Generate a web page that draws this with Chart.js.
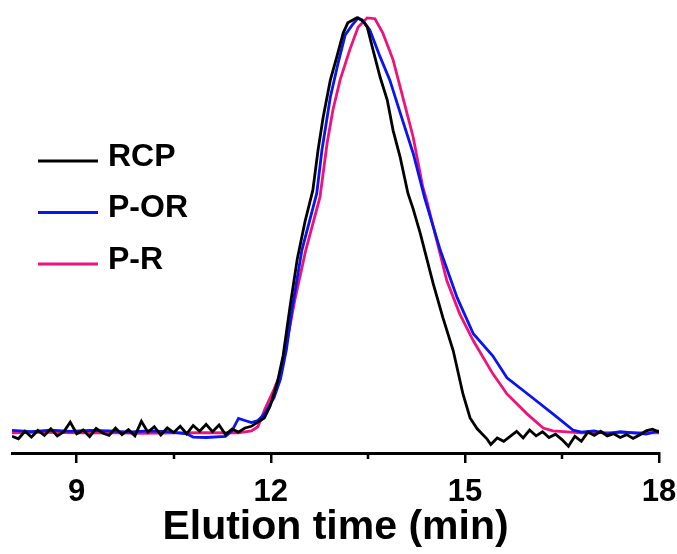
<!DOCTYPE html>
<html>
<head>
<meta charset="utf-8" />
<script src="https://cdn.jsdelivr.net/npm/chart.js@4/dist/chart.umd.min.js"></script>
<style>
  html, body { margin: 0; padding: 0; background: #fff; }
  #wrap { width: 677px; height: 554px; }
</style>
</head>
<body>
<div id="wrap"><canvas id="myChartGpc"></canvas></div>
<script>
//? Valeurs (temps en min, signal normalisé 0-100).

const labelsSeries = ["RCP", "P-OR", "P-R"];
const couleursSeries = ["#000000", "#0a14f0", "#f0127a"];

const tempsRcp = [
  8.0, 8.1, 8.2, 8.3, 8.4, 8.5, 8.6, 8.7, 8.8, 8.9, 9.0, 9.1, 9.2, 9.3, 9.4,
  9.5, 9.6, 9.7, 9.8, 9.9, 10.0, 10.1, 10.2, 10.3, 10.4, 10.5, 10.6, 10.7,
  10.8, 10.9, 11.0, 11.1, 11.2, 11.3, 11.4, 11.5, 11.6, 11.7, 11.8, 11.9,
  11.99, 12.1, 12.19, 12.3, 12.41, 12.53, 12.65, 12.73, 12.81, 12.92, 13.02,
  13.12, 13.19, 13.33, 13.41, 13.49, 13.58, 13.69, 13.8, 13.89, 14.0, 14.12,
  14.2, 14.31, 14.51, 14.66, 14.82, 14.97, 15.08, 15.19, 15.34, 15.4, 15.5,
  15.6, 15.7, 15.8, 15.9, 16.0, 16.1, 16.2, 16.3, 16.4, 16.5, 16.6, 16.7,
  16.8, 16.9, 17.0, 17.1, 17.2, 17.3, 17.4, 17.5, 17.6, 17.7, 17.8, 17.9,
  18.0,
];
const signalRcp = [
  -0.8, -1.4, 0.4, -1.0, 0.6, -0.6, 1.0, -0.7, 0.3, 2.6, -0.2, 0.7, -0.9, 1.1,
  0.0, -0.6, 1.2, -0.4, 0.8, -0.7, 2.8, 0.2, 1.5, -0.5, 1.2, 0.1, 1.6, -0.2,
  1.8, 0.4, 2.1, 0.3, 1.9, -0.4, 0.9, 0.2, 1.2, 1.6, 2.6, 3.6,
  6.5, 12.1, 18.6, 30.7, 42.0, 51.0, 58.5, 68.1, 76.1, 85.0, 90.6,
  96.4, 98.8, 100, 99.5, 97.8, 92.3, 85.7, 80.2, 72.9, 66.4, 57.7,
  54.0, 48.1, 36.0, 27.8, 19.8, 9.4, 3.6, 1.0, -1.4, -2.8, -1.2,
  -2.0, -0.8, 0.4, -1.2, 0.7, -0.7, 0.3, -1.1, -0.3, -1.6, -3.2, -0.8,
  -2.0, 0.2, -0.6, 0.4, -0.7, -0.2, -1.1, -0.4, -1.3, -0.5, 0.5, 0.9,
  0.2,
];

const tempsPor = [
  8.0, 8.3, 8.6, 8.9, 9.2, 9.5, 9.8, 10.1, 10.4, 10.7, 10.8, 11.0, 11.3,
  11.4, 11.5, 11.6, 11.7, 11.8, 11.9, 12.05, 12.15, 12.24, 12.33, 12.48,
  12.71, 12.79, 12.92, 13.04, 13.15, 13.26, 13.35, 13.44, 13.53, 13.69,
  13.84, 14.0, 14.2, 14.38, 14.62, 14.88, 15.13, 15.43, 15.65, 16.01, 16.36,
  16.67, 16.8, 17.0, 17.2, 17.4, 17.6, 17.8, 18.0,
];
const signalPor = [
  0.6, 0.3, 0.7, 0.4, 0.6, 0.5, 0.2, 0.5, 0.3, -0.2, -1.0, -1.1, -0.8,
  0.5, 3.5, 3.0, 2.5, 3.0, 4.5, 8.5, 13.0, 20.0, 30.0, 44.0,
  57.7, 68.1, 80.9, 89.1, 95.9, 98.3, 100, 99.0, 97.1, 90.6,
  85.0, 77.1, 67.4, 56.5, 44.0, 32.6, 23.9, 18.6, 13.3, 8.9, 4.6,
  0.7, 0.2, 0.5, -0.2, 0.3, 0.0, -0.3, 0.5,
];

const tempsPr = [
  8.0, 8.5, 9.0, 9.5, 10.0, 10.5, 11.0, 11.5, 11.7, 11.8, 11.91, 12.05,
  12.14, 12.25, 12.37, 12.54, 12.76, 12.87, 12.96, 13.07, 13.22, 13.35,
  13.49, 13.61, 13.73, 13.89, 14.04, 14.2, 14.35, 14.41, 14.72, 14.92,
  15.13, 15.43, 15.65, 15.96, 16.21, 16.36, 16.8, 17.4, 18.0,
];
const signalPr = [
  0.0, 0.2, 0.0, 0.1, -0.1, 0.0, 0.1, 0.0, 0.5, 1.5, 5.8, 10.5,
  14.0, 22.0, 31.9, 44.0, 56.8, 69.8, 77.8, 85.0, 92.3, 97.8,
  100, 99.8, 96.4, 89.9, 80.9, 71.3, 59.2, 56.0, 36.7, 28.7,
  22.2, 14.3, 9.4, 4.6, 1.2, 0.5, 0.0, 0.1, 0.0,
];

const ticksMajeurs = [9, 12, 15, 18];
const ticksMineurs = [10.5, 13.5, 16.5];
const titreAxeX = "Elution time (min)";

//? -------------------------------------------------

//? Mise en forme des points {x, y}.

const versPoints = (temps, signal) =>
  temps.map((t, i) => ({ x: t, y: signal[i] }));

const tableauxSeries = [
  versPoints(tempsRcp, signalRcp),
  versPoints(tempsPor, signalPor),
  versPoints(tempsPr, signalPr),
];

//? -------------------------------------------------

//? Plugin : ticks mineurs + légende dans la zone du graphique.

const pluginDecor = {
  id: "pluginDecor",
  afterDraw(chart) {
    const ctx = chart.ctx;
    const scaleX = chart.scales.x;
    const area = chart.chartArea;

    ctx.save();
    ctx.strokeStyle = "#000";
    ctx.lineWidth = 2.5;
    ticksMineurs.forEach((v) => {
      const px = Math.round(scaleX.getPixelForValue(v));
      ctx.beginPath();
      ctx.moveTo(px, area.bottom);
      ctx.lineTo(px, area.bottom + 6);
      ctx.stroke();
    });

    // légende
    const x0 = area.left + 26;
    const y0 = 161;
    const pas = 51.5;
    ctx.font = "bold 32px 'Liberation Sans', Arial, sans-serif";
    ctx.textBaseline = "middle";
    chart.data.datasets.forEach((ds, i) => {
      const y = y0 + i * pas;
      ctx.strokeStyle = ds.borderColor;
      ctx.lineWidth = 3;
      ctx.beginPath();
      ctx.moveTo(x0, y);
      ctx.lineTo(x0 + 60, y);
      ctx.stroke();
      ctx.fillStyle = "#000";
      ctx.fillText(ds.label, x0 + 70, y - 4);
    });
    ctx.restore();
  },
};

//? -------------------------------------------------

//? Construction du graphique.

const constructionDuGraphiqueGpc = () => {
  try {
    const ctxGpc = document.getElementById("myChartGpc").getContext("2d");

    const datasets = tableauxSeries.map((points, i) => ({
      label: labelsSeries[i],
      data: points,
      borderColor: couleursSeries[i],
      backgroundColor: couleursSeries[i],
      borderWidth: 2.8,
      lineTension: 0,
      pointRadius: 0,
      fill: false,
    }));

    const optionsGpc = {
      responsive: true,
      maintainAspectRatio: false,
      animation: { duration: 0 },
      layout: { padding: { left: 12, right: 18, top: 10, bottom: 4 } },
      plugins: {
        legend: { display: false },
        tooltip: { enabled: false },
      },
      scales: {
        x: {
          type: "linear",
          min: 8,
          max: 18,
          afterBuildTicks: (scale) => {
            scale.ticks = ticksMajeurs.map((v) => ({ value: v }));
          },
          afterFit: (scale) => {
            scale.paddingLeft = 0;
            scale.paddingRight = 18;
          },
          grid: {
            display: true,
            drawOnChartArea: false,
            drawTicks: true,
            tickLength: 10,
            color: "#000",
            lineWidth: 2.5,
          },
          border: { display: true, color: "#000", width: 3 },
          ticks: {
            color: "#000",
            padding: 14,
            font: {
              family: "'Liberation Sans', Arial, sans-serif",
              size: 31,
              weight: "bold",
              lineHeight: 1,
            },
          },
          title: {
            display: true,
            text: titreAxeX,
            color: "#000",
            padding: { top: -15, bottom: 2 },
            font: {
              family: "'Liberation Sans', Arial, sans-serif",
              size: 41,
              weight: "bold",
              lineHeight: 1,
            },
          },
        },
        y: {
          display: false,
          min: -4.83,
          max: 101.9,
        },
      },
    };

    new Chart(ctxGpc, {
      type: "line",
      data: { datasets },
      options: optionsGpc,
      plugins: [pluginDecor],
    });
  } catch (error) {
    console.error("🔴 ERREUR | Construction graphique :", error);
  }
};

constructionDuGraphiqueGpc();
</script>
</body>
</html>
